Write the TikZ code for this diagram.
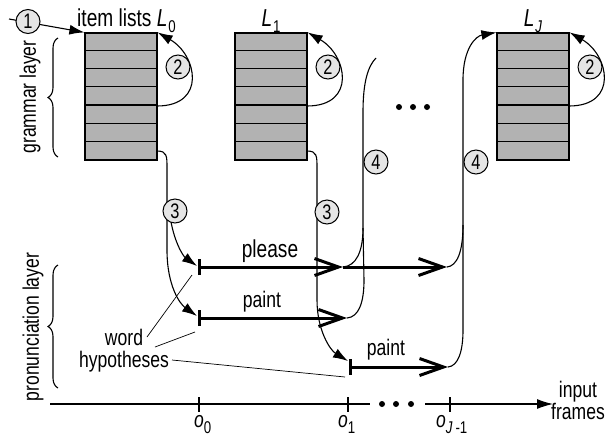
\documentclass[tikz,border=0pt]{standalone}
\usepackage{fontspec}
\setmainfont{Liberation Sans}[FakeStretch=0.78]
\usetikzlibrary{arrows.meta,decorations.pathreplacing}
\newcommand\sbs[1]{\raisebox{-0.28em}{\fontsize{17}{17}\selectfont #1}}
\begin{document}
\begin{tikzpicture}[x=1pt,y=-1pt,
  txt/.style={font=\fontsize{22.5}{22}\selectfont, inner sep=0pt},
  bigtxt/.style={font=\fontsize{24.5}{22}\selectfont, inner sep=0pt},
  num/.style={circle,draw,fill=black!10,line width=1pt,inner sep=0pt,minimum size=24pt,font=\fontsize{21}{21}\selectfont},
  thinln/.style={line width=1.1pt},
  fin/.style={-{Latex[length=15pt,width=10pt]}},
  hyp/.style={line width=3pt,{Bar[width=16pt,line width=3pt]}-{Straight Barb[length=24pt,width=17pt,line width=3pt]}},
  hypm/.style={line width=3pt,-{Straight Barb[length=24pt,width=17pt,line width=3pt]}},
  leader/.style={line width=0.7pt},
  listbox/.style={draw,fill=black!30,line width=1.2pt,minimum width=72pt,minimum height=127pt,inner sep=0pt},
]
\useasboundingbox (0,0) rectangle (607,437);

% item lists
\foreach \n/\cx in {a/121, b/271, c/533} {
  \node[listbox] (box\n) at (\cx,96.5) {};
  \foreach \k in {1,...,6}
    \draw[line width=1.2pt] ([yshift=-\k*18.14pt]box\n.north west) -- ([yshift=-\k*18.14pt]box\n.north east);
}
\node[bigtxt,anchor=base west] (lab0) at (77,26) {item lists \textit{L}\kern1pt\sbs{0}};
\node[bigtxt,anchor=base] (lab1) at (271,26) {\textit{L}\kern1pt\sbs{1}};
\node[bigtxt,anchor=base] (labJ) at (533,26) {\textit{L}\kern1pt\sbs{\textit{J}}};

% step 1
\coordinate (s1) at (9,19);
\draw[thinln,fin] (s1) -- (boxa.north west);
\node[num] (c1) at (28,21.5) {1};

% step 2 loops
\foreach \R/\n in {157/a, 307/b, 569/c} {
  \draw[thinln,fin] (\R,106) .. controls (\R+50,106) and (\R+40,55) .. (box\n.north east);
  \node[num] (ctwo\n) at (\R+21,67) {2};
}

% dots between lists
\foreach \x in {399,413,427} \fill (\x,107) circle (3pt);

% step 3 from L0
\draw[thinln,fin] (157,151) .. controls (167,151) and (167,156) .. (167,168) -- (167,250) .. controls (167,286) and (180,304) .. (197,316);
\draw[thinln,fin] (170,215) .. controls (173,240) and (183,256) .. (197,266);
\node[num] (c3a) at (175,211) {3};

% step 3 from L1
\draw[thinln,fin] (307,151) .. controls (317,151) and (317,156) .. (317,168) -- (317,300) .. controls (317,330) and (330,350) .. (348,361);
\node[num] (c3b) at (327,212) {3};

% step 4 (middle)
\draw[thinln] (343,267) .. controls (356,266) and (363,252) .. (363,228) -- (363,112) .. controls (363,82) and (368,66) .. (376,58);
\draw[thinln] (347,318) .. controls (359,317) and (364,302) .. (364,280) -- (363,228);
\node[num] (c4a) at (376,162) {4};

% step 4 to LJ
\draw[thinln] (447,267) .. controls (457,266) and (463,252) .. (463,225);
\draw[thinln,fin] (448,367) .. controls (458,366) and (463,352) .. (463,330) -- (463,80) .. controls (463,48) and (476,36) .. (boxc.north west);
\node[num] (c4b) at (476,162) {4};

% word hypotheses
\coordinate (pl0) at (198,267);
\coordinate (pl1) at (343,267);
\coordinate (pl2) at (447,267);
\coordinate (pa0) at (198,318);
\coordinate (pa1) at (347,318);
\coordinate (pb0) at (349,367);
\coordinate (pb1) at (448,367);
\draw[hyp] (pl0) -- (pl1);
\draw[hypm] (pl1) -- (pl2);
\draw[hyp] (pa0) -- (pa1);
\draw[hyp] (pb0) -- (pb1);
\node[bigtxt] (tpl) at (270,251) {please};
\node[txt] (tpa) at (262,302) {paint};
\node[txt] (tpb) at (386,350) {paint};

\node[txt,align=center] (wh) at (124,351) {word\\hypotheses};
\draw[leader] (147,337) -- (192,275);
\draw[leader] (155,347) -- (195,332);
\draw[leader] (172,360) -- (345,377);

% layers
\node[txt,rotate=90] (gl) at (30,97) {grammar layer};
\draw[thinln,decorate,decoration={brace,amplitude=10pt}] (58,157) -- (58,38);
\node[txt,rotate=90] (pron) at (33,327) {pronunciation layer};
\draw[thinln,decorate,decoration={brace,amplitude=10pt}] (58,388) -- (58,265);

% time axis
\coordinate (ax0) at (50,404);
\coordinate (ax1) at (370,404);
\coordinate (ax2) at (425,404);
\coordinate (ax3) at (553,404);
\draw[thinln] (ax0) -- (ax1);
\draw[thinln,-{Latex[length=16pt,width=10pt]}] (ax2) -- (ax3);
\foreach \x in {382,396,411} \fill (\x,404) circle (3pt);
\foreach \x in {199,348,450} \draw[thinln] (\x,397) -- (\x,412);
\node[txt,anchor=base west] (o0) at (194,427) {\textit{o}\sbs{0}};
\node[txt,anchor=base west] (o1) at (338,427) {\textit{o}\sbs{1}};
\node[txt,anchor=base west] (oJ) at (436,427) {\textit{o}\sbs{\textit{J}\,-1}};
\node[txt,align=center] (inp) at (578,400) {input\\frames};
\end{tikzpicture}
\end{document}
